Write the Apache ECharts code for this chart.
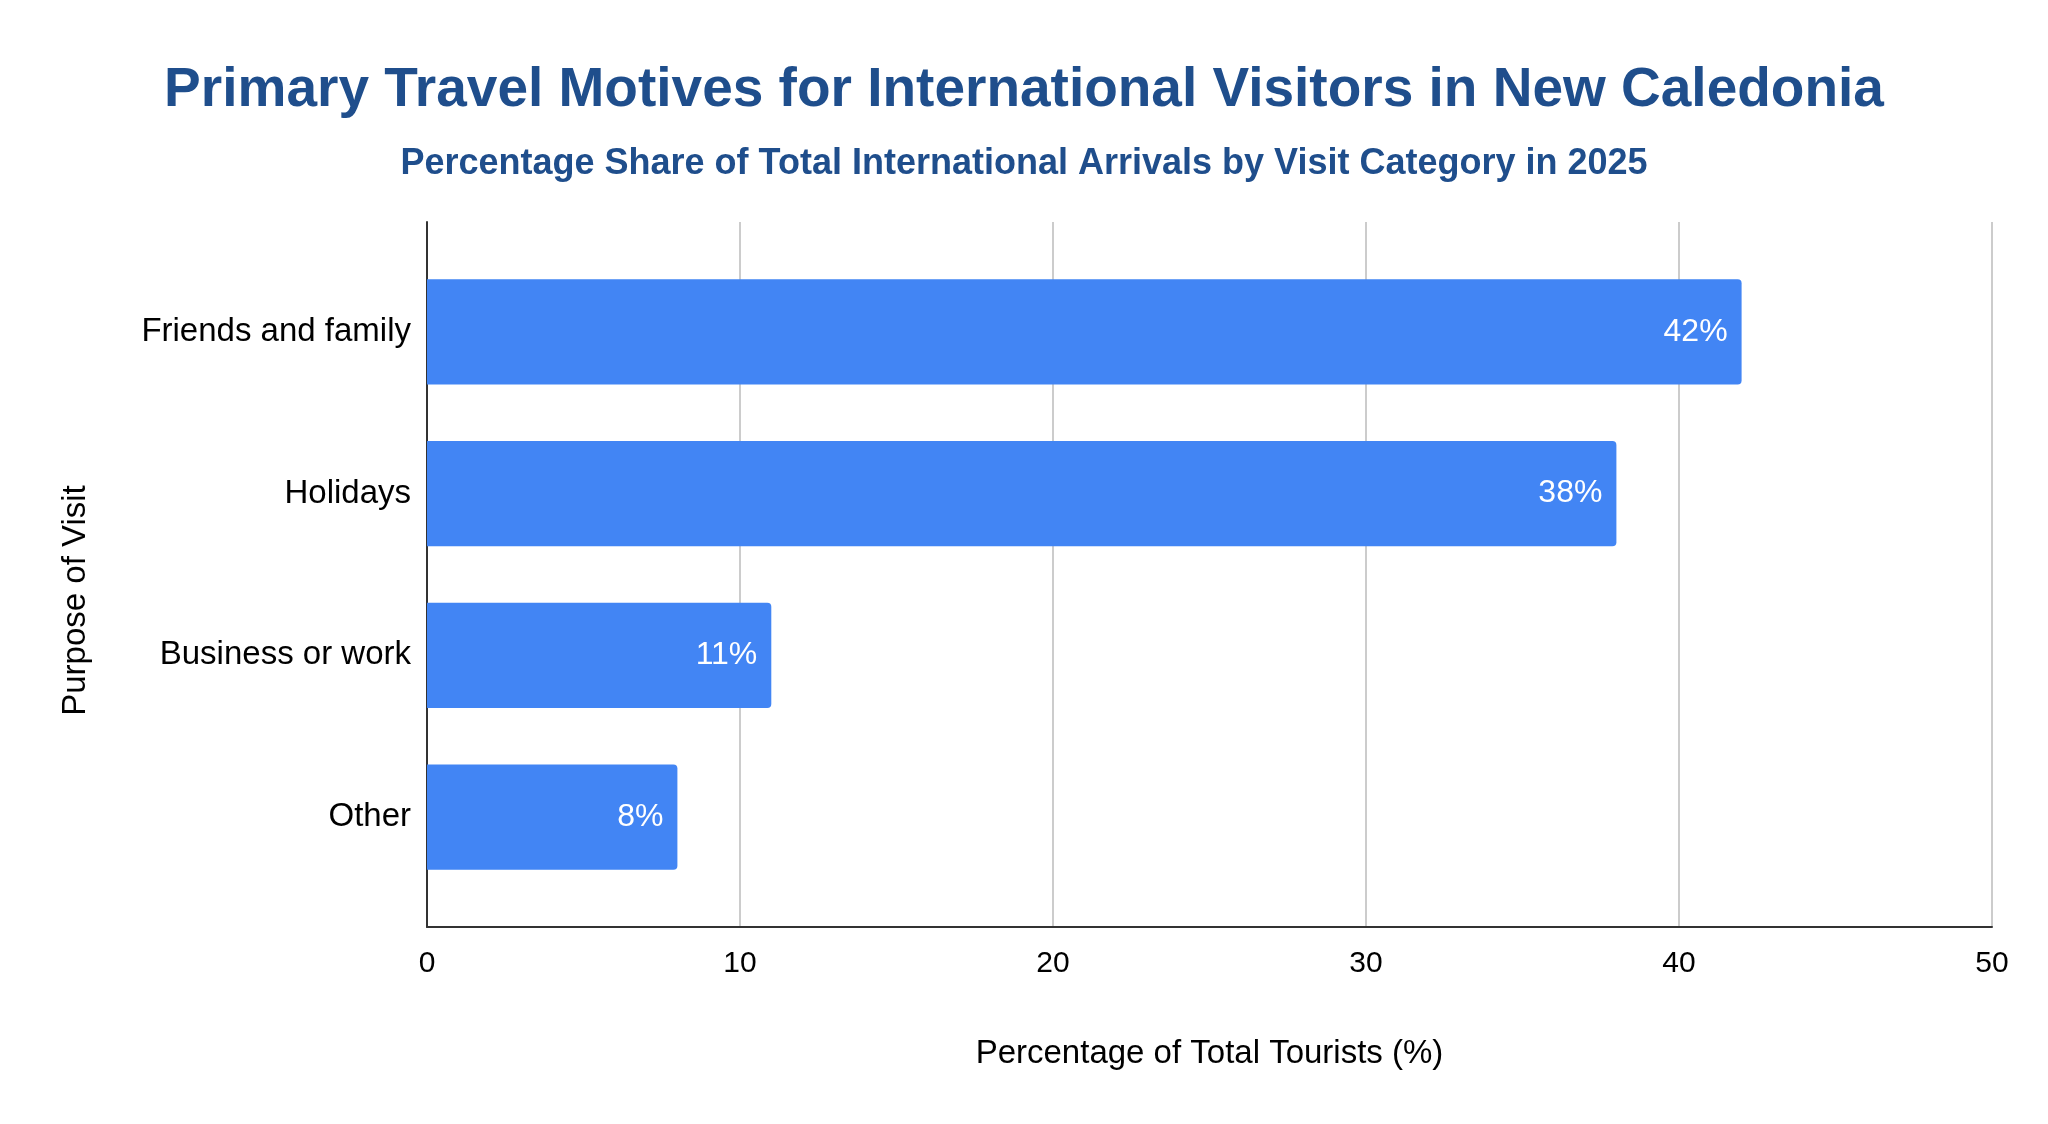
<!DOCTYPE html>
<html>
<head>
<meta charset="utf-8">
<title>Primary Travel Motives</title>
<script src="https://cdn.jsdelivr.net/npm/echarts@6/dist/echarts.min.js"></script>
<style>
  html, body { margin: 0; padding: 0; background: #fff; }
  #chart { width: 2048px; height: 1124px; }
</style>
</head>
<body>
<div id="chart"></div>
<script>
// categories, top to bottom
var purposes = ['Friends and family', 'Holidays', 'Business or work', 'Other'];
// share of arrivals, %
var shares = [42, 38, 11, 8];
var xTicks = [0, 10, 20, 30, 40, 50];

var FONT = '"Liberation Sans", Arial, sans-serif';
var BLUE_TEXT = '#1f4e8c';

//外框网格 (axis lines + gridlines) and an inset one for the bars,
//so the bars keep some air above and below like the original
var frame = { left: 427, right: 56, top: 222, bottom: 197 };
var inset = 29;

var chart = echarts.init(document.getElementById('chart'));
chart.setOption({
    backgroundColor: '#fff',
    title: {
        text: 'Primary Travel Motives for International Visitors in New Caledonia',
        subtext: 'Percentage Share of Total International Arrivals by Visit Category in 2025',
        left: 'center',
        top: 58,
        itemGap: 28,
        textStyle: {
            fontFamily: FONT,
            fontSize: 55,
            fontWeight: 'bold',
            color: BLUE_TEXT
        },
        subtextStyle: {
            fontFamily: FONT,
            fontSize: 36,
            fontWeight: 'bold',
            color: BLUE_TEXT
        }
    },
    grid: [
        { left: frame.left, right: frame.right, top: frame.top, bottom: frame.bottom },
        { left: frame.left, right: frame.right, top: frame.top + inset, bottom: frame.bottom + inset }
    ],
    xAxis: [
        {
            gridIndex: 0,
            type: 'value',
            min: xTicks[0],
            max: xTicks[xTicks.length - 1],
            interval: 10,
            name: 'Percentage of Total Tourists (%)',
            nameLocation: 'middle',
            nameGap: 110,
            nameTextStyle: { fontFamily: FONT, fontSize: 33, color: '#000' },
            axisLine: { show: true, lineStyle: { color: '#333', width: 2 } },
            axisTick: { show: false },
            axisLabel: { fontFamily: FONT, fontSize: 30, color: '#000', margin: 22 },
            splitLine: { show: true, lineStyle: { color: '#cccccc', width: 2 } }
        },
        {
            gridIndex: 1,
            type: 'value',
            min: xTicks[0],
            max: xTicks[xTicks.length - 1],
            interval: 10,
            show: false
        }
    ],
    yAxis: [
        {
            gridIndex: 0,
            type: 'category',
            data: purposes,
            inverse: true,
            name: 'Purpose of Visit',
            nameLocation: 'middle',
            nameGap: 335,
            nameRotate: 90,
            nameTextStyle: { fontFamily: FONT, fontSize: 33, color: '#000', padding: [0, 52, 0, 0] },
            axisLine: { show: true, lineStyle: { color: '#333', width: 2 } },
            axisTick: { show: false },
            axisLabel: { show: false },
            splitLine: { show: false }
        },
        {
            gridIndex: 1,
            type: 'category',
            data: purposes,
            inverse: true,
            axisLine: { show: false },
            axisTick: { show: false },
            axisLabel: { fontFamily: FONT, fontSize: 33, color: '#000', margin: 16 },
            splitLine: { show: false }
        }
    ],
    series: [
        {
            type: 'bar',
            xAxisIndex: 1,
            yAxisIndex: 1,
            data: shares,
            barCategoryGap: '35%',
            itemStyle: {
                color: '#4285f4',
                borderRadius: [0, 4, 4, 0]
            },
            label: {
                show: true,
                position: 'insideRight',
                distance: 14,
                formatter: '{c}%',
                fontFamily: FONT,
                fontSize: 32,
                color: '#fff'
            }
        }
    ]
});
</script>
</body>
</html>
